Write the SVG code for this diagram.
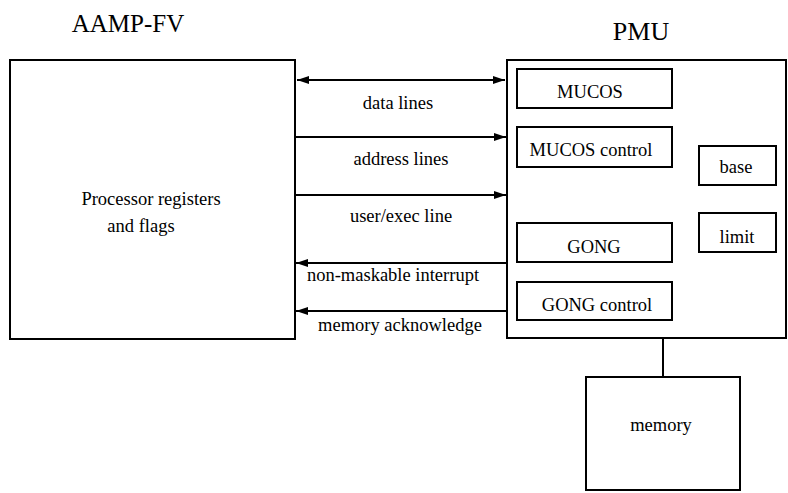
<svg xmlns="http://www.w3.org/2000/svg" width="788" height="493" viewBox="0 0 788 493">
<defs>
<style>
.box{fill:none;stroke:#000;stroke-width:2}
.t{font-family:"Liberation Serif","Times New Roman",serif;font-size:18.5px;fill:#000;text-anchor:middle}
.title{font-family:"Liberation Serif","Times New Roman",serif;font-size:25px;fill:#000;text-anchor:middle}
.ln{stroke:#000;stroke-width:2;fill:none}
</style>
<marker id="ah" viewBox="0 0 12 8" refX="12" refY="4" markerWidth="12" markerHeight="8" markerUnits="userSpaceOnUse" orient="auto-start-reverse">
<path d="M0,0 L12,4 L0,8 z" fill="#000"/>
</marker>
</defs>
<rect width="788" height="493" fill="#fff"/>
<text class="title" x="128" y="32">AAMP-FV</text>
<text class="title" x="641" y="40" style="font-size:26px">PMU</text>
<g id="aamp">
<rect class="box" x="10" y="60" width="285" height="279"/>
<text class="t" x="151" y="205">Processor registers</text>
<text class="t" x="141" y="232">and flags</text>
</g>
<g id="pmu">
<rect class="box" x="507" y="60" width="279" height="278"/>
</g>
<g id="mucos">
<rect class="box" x="517" y="69" width="155" height="39"/>
<text class="t" x="590" y="98">MUCOS</text>
</g>
<g id="mucos-control">
<rect class="box" x="517" y="127" width="155" height="40"/>
<text class="t" x="591" y="156">MUCOS control</text>
</g>
<g id="gong">
<rect class="box" x="517" y="223" width="155" height="39"/>
<text class="t" x="594" y="253">GONG</text>
</g>
<g id="gong-control">
<rect class="box" x="517" y="282" width="155" height="38"/>
<text class="t" x="597" y="311">GONG control</text>
</g>
<g id="base">
<rect class="box" x="699" y="146" width="77" height="39"/>
<text class="t" x="736" y="173">base</text>
</g>
<g id="limit">
<rect class="box" x="699" y="213" width="77" height="39"/>
<text class="t" x="737" y="243">limit</text>
</g>
<g id="memory">
<rect class="box" x="586" y="377" width="154" height="113"/>
<text class="t" x="661" y="431">memory</text>
</g>
<g id="connectors">
<line class="ln" x1="297" y1="80" x2="505" y2="80" marker-start="url(#ah)" marker-end="url(#ah)"/>
<line class="ln" x1="296" y1="137" x2="506" y2="137" marker-end="url(#ah)"/>
<line class="ln" x1="296" y1="195" x2="506" y2="195" marker-end="url(#ah)"/>
<line class="ln" x1="506" y1="263" x2="296" y2="263" marker-end="url(#ah)"/>
<line class="ln" x1="506" y1="311" x2="296" y2="311" marker-end="url(#ah)"/>
<line class="ln" x1="663" y1="339" x2="663" y2="377"/>
<text class="t" x="398" y="109">data lines</text>
<text class="t" x="401" y="165">address lines</text>
<text class="t" x="401" y="222">user/exec line</text>
<text class="t" x="393" y="281">non-maskable interrupt</text>
<text class="t" x="400" y="331">memory acknowledge</text>
</g>
</svg>
